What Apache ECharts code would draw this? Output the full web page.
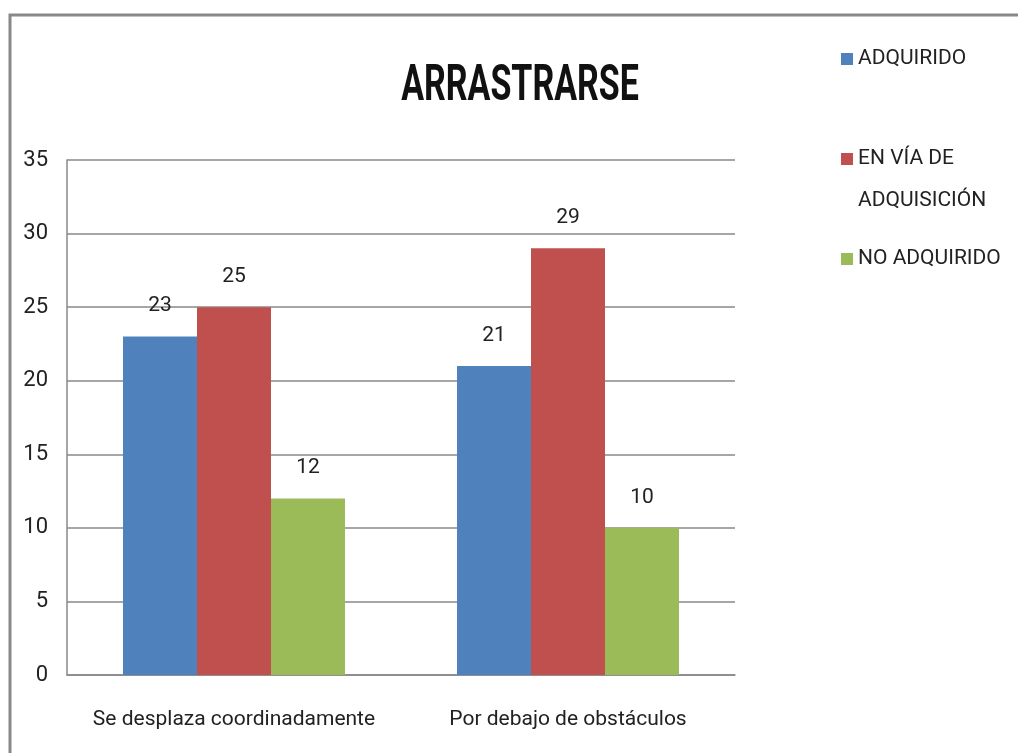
<!DOCTYPE html>
<html>
<head>
<meta charset="UTF-8">
<title>ARRASTRARSE</title>
<script src="https://cdn.jsdelivr.net/npm/echarts@6/dist/echarts.min.js"></script>
<style>
  html, body { margin: 0; padding: 0; background: #fff; }
  #chart { width: 1018px; height: 753px; }
</style>
</head>
<body>
<div id="chart"></div>
<script>
// datos del grafico
var categorias = ['Se desplaza coordinadamente', 'Por debajo de obstáculos'];
var adquirido = [23, 21];
var enVia = [25, 29];
var noAdquirido = [12, 10];
var series_nombres = ['ADQUIRIDO', 'EN VÍA DE\nADQUISICIÓN', 'NO ADQUIRIDO'];

var fuente = '"Roboto", "Liberation Sans", sans-serif';

var myChart = echarts.init(document.getElementById('chart'));

function barra(nombre, datos, color) {
  return {
    type: 'bar',
    name: nombre,
    data: datos,
    barWidth: 74,
    barGap: '0%',
    itemStyle: { color: color },
    label: {
      show: true,
      position: 'top',
      distance: 20,
      color: '#222',
      fontSize: 21,
      fontFamily: fuente
    }
  };
}

var option = {
  animation: false,
  graphic: [{
    type: 'rect',
    shape: { x: 10, y: 15, width: 1200, height: 900 },
    style: { fill: 'none', stroke: '#888', lineWidth: 3 }
  }, {
    // titulo, estrecho como en el original
    type: 'text',
    x: 520,
    y: 87,
    scaleX: 0.68,
    style: {
      text: 'ARRASTRARSE',
      font: 'bold 50px Roboto, sans-serif',
      fill: '#111',
      textAlign: 'center',
      textVerticalAlign: 'middle'
    }
  }],
  legend: {
    orient: 'vertical',
    left: 836,
    top: 33,
    itemWidth: 12,
    itemHeight: 12,
    itemGap: 16,
    icon: 'rect',
    // el cuadrado va con la primera linea del texto
    formatter: function (name) {
      return name.indexOf('\n') >= 0 ? '\n' + name : name;
    },
    textStyle: {
      fontFamily: fuente,
      fontSize: 21,
      color: '#222',
      lineHeight: 42
    },
    data: series_nombres
  },
  grid: {
    left: 67,
    right: 283,
    top: 160,
    bottom: 78,
    containLabel: false
  },
  xAxis: {
    type: 'category',
    data: categorias,
    axisLine: { lineStyle: { color: '#888', width: 1.5 } },
    axisTick: { show: false },
    axisLabel: {
      interval: 0,
      margin: 34,
      fontFamily: fuente,
      fontSize: 21,
      color: '#222'
    }
  },
  yAxis: {
    type: 'value',
    min: 0,
    max: 35,
    interval: 5,
    axisLine: { show: true, lineStyle: { color: '#888', width: 1.5 } },
    axisTick: { show: false },
    splitLine: { lineStyle: { color: '#888', width: 1.5 } },
    axisLabel: {
      margin: 19,
      fontFamily: fuente,
      fontSize: 22,
      color: '#222'
    }
  },
  series: [
    barra(series_nombres[0], adquirido, '#4f81bd'),
    barra(series_nombres[1], enVia, '#c0504d'),
    barra(series_nombres[2], noAdquirido, '#9bbb59')
  ]
};

myChart.setOption(option);
</script>
</body>
</html>
